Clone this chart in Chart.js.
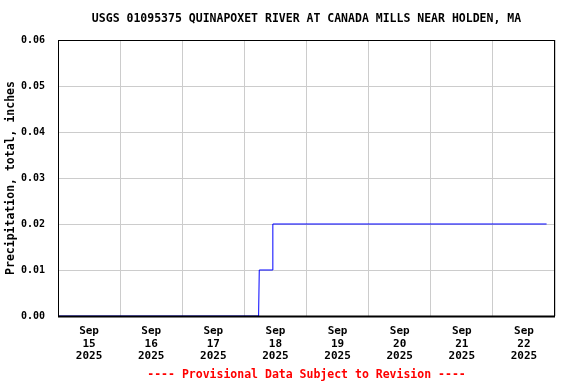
<!DOCTYPE html>
<html>
<head>
<meta charset="utf-8">
<script src="https://cdn.jsdelivr.net/npm/chart.js@4"></script>
<style>
html,body{margin:0;padding:0;background:#fff;}
#wrap{width:576px;height:384px;}
</style>
</head>
<body>
<div id="wrap"><canvas id="precip" width="576" height="384"></canvas></div>
<script>
// hours after Sep 15 2025 00:00, cumulative precipitation in inches
const hours=[0,77.5,77.75,82.75,83,188.75];
const precip=[0,0,0.01,0.01,0.02,0.02];
const dayLabels=['15','16','17','18','19','20','21','22'];
const yTicks=[0,0.01,0.02,0.03,0.04,0.05,0.06];
const titleText='USGS 01095375 QUINAPOXET RIVER AT CANADA MILLS NEAR HOLDEN, MA';
const footText='---- Provisional Data Subject to Revision ----';

const mono='"DejaVu Sans Mono", "Liberation Mono", monospace';

// frame round the plot, and title/footer centred on the plot area
const boxPlugin={
  id:'box',
  afterDraw(chart){
    const a=chart.chartArea,c=chart.ctx;
    c.save();
    c.strokeStyle='#000';
    c.lineWidth=1;
    c.strokeRect(a.left+0.5,a.top+0.5,a.right-a.left-1,a.bottom-a.top);
    c.lineWidth=2;
    c.beginPath();
    c.moveTo(a.left,a.bottom+0.5);
    c.lineTo(a.right,a.bottom+0.5);
    c.stroke();
    const mid=(a.left+a.right)/2;
    c.textAlign='center';
    c.textBaseline='middle';
    c.font='bold 11.5px '+mono;
    c.fillStyle='#000';
    c.fillText(titleText,mid,19);
    c.fillStyle='#ff0000';
    c.fillText(footText,mid,375);
    c.restore();
  }
};

const pts=hours.map((h,i)=>({x:h,y:precip[i]}));

new Chart(document.getElementById('precip'),{
  type:'line',
  data:{datasets:[{
    data:pts,
    borderColor:'#0000ff',
    borderWidth:1,
    pointRadius:0,
    tension:0,
    fill:false
  }]},
  options:{
    responsive:false,
    animation:false,
    layout:{padding:{left:0,right:21,top:40,bottom:15}},
    plugins:{
      legend:{display:false},
      tooltip:{enabled:false},
      title:{display:false}
    },
    scales:{
      x:{
        type:'linear',
        min:0,
        max:192,
        border:{display:false},
        grid:{
          color:ctx=>(ctx.tick&&ctx.tick.value%24===0)?'#cccccc':'rgba(0,0,0,0)',
          drawTicks:false
        },
        afterBuildTicks(scale){
          const t=[];
          for(let h=0;h<=192;h+=12)t.push({value:h});
          scale.ticks=t;
        },
        afterFit(scale){scale.height=53;},
        ticks:{
          autoSkip:false,
          maxRotation:0,
          padding:9,
          color:'#000',
          font:{family:mono,size:11,weight:'bold',lineHeight:1.15},
          callback:v=>{
            if(v%24!==12)return '';
            return ['Sep',dayLabels[Math.floor(v/24)],'2025'];
          }
        }
      },
      y:{
        min:0,
        max:0.06,
        border:{display:false},
        grid:{color:'#cccccc',drawTicks:false},
        afterBuildTicks(scale){
          scale.ticks=yTicks.map(v=>({value:v}));
        },
        afterFit(scale){scale.width=58;},
        ticks:{
          padding:13,
          color:'#000',
          font:{family:mono,size:10,weight:'bold'},
          callback:v=>v.toFixed(2)
        },
        title:{
          display:true,
          text:'Precipitation, total, inches',
          color:'#000',
          font:{family:mono,size:11.5,weight:'bold'},
          padding:{top:4,bottom:0}
        }
      }
    }
  },
  plugins:[boxPlugin]
});
</script>
</body>
</html>
